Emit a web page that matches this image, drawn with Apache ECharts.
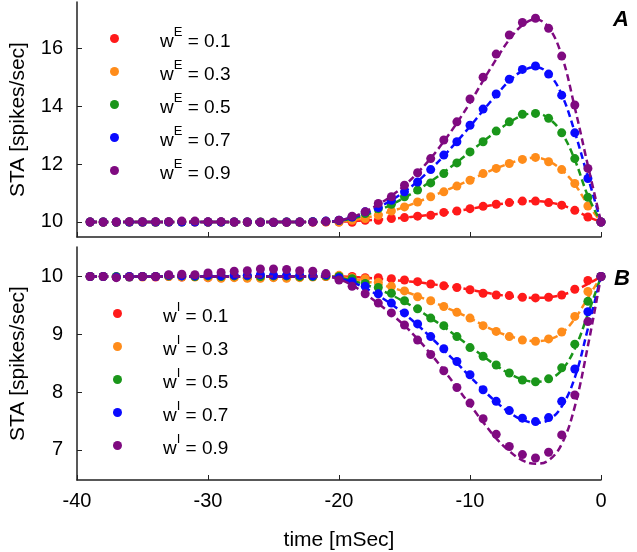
<!DOCTYPE html>
<html lang="en">
<head>
    <meta charset="UTF-8">
    <title>STA</title>
    <style>
        * {
            margin: 0;
            padding: 0;
        }

        .main {
            width: 637px;
            height: 552px;
        }
    </style>
</head>
<body>
<div id="main" class="main"></div>
<script src="https://cdn.jsdelivr.net/npm/echarts@6/dist/echarts.min.js"></script>
<script>
    var times = [-39, -38, -37, -36, -35, -34, -33, -32, -31, -30, -29, -28, -27, -26, -25, -24, -23, -22, -21,
        -20, -19, -18, -17, -16, -15, -14, -13, -12, -11, -10, -9, -8, -7, -6, -5, -4, -3, -2, -1, 0];

    var colors = ['#ff1a1a', '#ff8c1a', '#1a961a', '#0a0aff', '#7f0a80'];
    var weights = ['0.1', '0.3', '0.5', '0.7', '0.9'];
    var xTicks = [-40, -30, -20, -10, 0];
    var excTicks = [10, 12, 14, 16];
    var inhTicks = [7, 8, 9, 10];

    // panel A - excitatory, simulated points
    var excDotRed = [10.00, 9.99, 10.00, 10.00, 9.99, 10.00, 10.00, 10.01, 10.00, 9.99, 10.00, 10.00, 9.99, 9.99, 9.98, 9.99, 9.99, 10.00, 10.00,
        10.00, 9.99, 10.06, 10.06, 10.12, 10.15, 10.20, 10.23, 10.33, 10.38, 10.46, 10.54, 10.61, 10.67, 10.72, 10.72, 10.67, 10.58, 10.40, 10.17, 10.00];
    var excDotOrange = [10.00, 10.00, 9.99, 10.00, 10.00, 9.99, 10.00, 10.00, 10.00, 10.00, 10.00, 9.99, 10.00, 9.99, 9.99, 10.00, 10.00, 10.00, 10.01,
        10.00, 10.06, 10.12, 10.23, 10.38, 10.52, 10.69, 10.87, 11.04, 11.24, 11.44, 11.67, 11.85, 12.02, 12.16, 12.23, 12.08, 11.81, 11.33, 10.55, 10.00];
    var excDotGreen = [10.00, 10.00, 9.99, 10.00, 10.00, 10.00, 10.00, 10.00, 10.01, 10.00, 10.00, 10.00, 10.00, 10.00, 9.99, 10.00, 10.00, 10.01, 10.02,
        10.05, 10.17, 10.29, 10.46, 10.61, 10.87, 11.10, 11.35, 11.67, 12.04, 12.42, 12.77, 13.14, 13.46, 13.72, 13.75, 13.58, 13.08, 12.19, 10.85, 10.00];
    var excDotBlue = [10.00, 10.00, 10.00, 10.00, 10.00, 10.00, 10.00, 10.00, 10.00, 10.00, 10.00, 10.00, 10.00, 9.99, 9.99, 10.00, 10.00, 10.01, 10.03,
        10.06, 10.17, 10.35, 10.50, 10.75, 11.04, 11.38, 11.81, 12.31, 12.77, 13.34, 13.90, 14.42, 14.93, 15.27, 15.39, 15.11, 14.38, 13.08, 11.50, 10.00];
    var excDotPurple = [10.00, 10.00, 10.00, 10.01, 10.01, 10.01, 10.01, 10.03, 10.03, 10.01, 10.01, 10.00, 10.00, 9.99, 9.99, 9.99, 10.00, 10.00, 10.02,
        10.06, 10.20, 10.35, 10.64, 10.87, 11.27, 11.70, 12.19, 12.83, 13.46, 14.25, 15.00, 15.80, 16.46, 16.89, 17.04, 16.69, 15.73, 14.04, 11.85, 10.00];

    // panel A - theory (dashed)
    var excFitRed = [10, 10, 10, 10, 10, 10, 10, 10, 10, 10, 10, 10, 10, 10, 10, 10, 10, 10, 10,
        10.01, 10.03, 10.05, 10.08, 10.11, 10.15, 10.20, 10.25, 10.31, 10.38, 10.45, 10.53, 10.60, 10.66, 10.71, 10.72, 10.68, 10.58, 10.40, 10.18, 10.00];
    var excFitOrange = [10, 10, 10, 10, 10, 10, 10, 10, 10, 10, 10, 10, 10, 10, 10, 10, 10, 10, 10,
        10.02, 10.07, 10.14, 10.24, 10.37, 10.52, 10.69, 10.87, 11.06, 11.25, 11.45, 11.66, 11.85, 12.02, 12.16, 12.22, 12.10, 11.80, 11.30, 10.60, 10.00];
    var excFitGreen = [10, 10, 10, 10, 10, 10, 10, 10, 10, 10, 10, 10, 10, 10, 10, 10, 10, 10, 10,
        10.04, 10.12, 10.24, 10.40, 10.60, 10.84, 11.10, 11.40, 11.72, 12.06, 12.42, 12.78, 13.12, 13.44, 13.68, 13.75, 13.58, 13.08, 12.15, 10.90, 10.00];
    var excFitBlue = [10, 10, 10, 10, 10, 10, 10, 10, 10, 10, 10, 10, 10, 10, 10, 10, 10, 10, 10,
        10.05, 10.15, 10.30, 10.50, 10.75, 11.05, 11.40, 11.82, 12.28, 12.78, 13.30, 13.85, 14.38, 14.87, 15.22, 15.35, 15.12, 14.40, 13.10, 11.55, 10.00];
    var excFitPurple = [10, 10, 10, 10, 10, 10, 10, 10, 10, 10, 10, 10, 10, 10, 10, 10, 10, 10, 10,
        10.05, 10.17, 10.36, 10.60, 10.90, 11.26, 11.70, 12.20, 12.78, 13.42, 14.12, 14.88, 15.62, 16.30, 16.80, 17.00, 16.72, 15.75, 13.95, 11.95, 10.00];

    // panel B - inhibitory, simulated points
    var inhDotRed = [10.00, 10.00, 9.99, 10.00, 10.00, 9.99, 10.00, 9.99, 10.00, 9.98, 9.98, 9.99, 9.98, 9.98, 9.99, 9.98, 9.99, 10.00, 10.00,
        10.00, 10.00, 9.98, 9.98, 9.96, 9.94, 9.91, 9.87, 9.84, 9.81, 9.77, 9.71, 9.68, 9.67, 9.64, 9.63, 9.64, 9.68, 9.78, 9.93, 10.00];
    var inhDotOrange = [10.00, 10.00, 9.99, 10.00, 9.99, 10.00, 10.00, 9.99, 9.99, 9.98, 9.97, 9.98, 9.97, 9.97, 9.98, 9.97, 9.98, 9.99, 10.00,
        10.02, 9.98, 9.96, 9.90, 9.83, 9.75, 9.65, 9.58, 9.48, 9.38, 9.28, 9.15, 9.05, 8.96, 8.90, 8.88, 8.92, 9.04, 9.31, 9.74, 10.00];
    var inhDotGreen = [10.00, 10.00, 10.00, 9.99, 10.00, 10.00, 10.01, 10.01, 10.00, 10.01, 10.00, 10.01, 10.01, 10.00, 10.01, 10.01, 10.00, 10.00, 10.01,
        10.00, 9.96, 9.88, 9.81, 9.71, 9.58, 9.44, 9.28, 9.15, 8.96, 8.77, 8.62, 8.47, 8.33, 8.21, 8.18, 8.23, 8.42, 8.83, 9.57, 10.00];
    var inhDotBlue = [10.00, 10.00, 9.99, 10.00, 10.00, 10.00, 10.02, 10.01, 10.01, 10.02, 10.01, 10.02, 10.02, 10.03, 10.02, 10.02, 10.02, 10.01, 10.03,
        9.98, 9.91, 9.83, 9.70, 9.54, 9.37, 9.18, 8.96, 8.75, 8.53, 8.30, 8.04, 7.84, 7.68, 7.55, 7.49, 7.56, 7.84, 8.40, 9.39, 10.00];
    var inhDotPurple = [10.00, 10.00, 9.98, 9.99, 10.00, 10.00, 10.03, 10.04, 10.03, 10.06, 10.07, 10.09, 10.10, 10.13, 10.13, 10.12, 10.10, 10.09, 10.05,
        9.94, 9.83, 9.70, 9.54, 9.37, 9.16, 8.90, 8.65, 8.37, 8.08, 7.81, 7.54, 7.27, 7.06, 6.92, 6.86, 6.96, 7.26, 7.95, 9.22, 10.00];

    // panel B - theory (dashed)
    var inhFitRed = [10, 10, 10, 10, 10, 10, 10, 10, 10, 10, 10, 10, 10, 10, 10, 10, 10, 10, 10,
        10.00, 9.99, 9.98, 9.96, 9.94, 9.92, 9.90, 9.87, 9.84, 9.81, 9.77, 9.73, 9.69, 9.66, 9.64, 9.63, 9.64, 9.68, 9.76, 9.87, 10.00];
    var inhFitOrange = [10, 10, 10, 10, 10, 10, 10, 10, 10, 10, 10, 10, 10, 10, 10, 10, 10, 10, 10,
        9.99, 9.96, 9.92, 9.87, 9.81, 9.74, 9.66, 9.57, 9.48, 9.38, 9.28, 9.16, 9.05, 8.97, 8.91, 8.88, 8.91, 9.02, 9.27, 9.63, 10.00];
    var inhFitGreen = [10, 10, 10, 10, 10, 10, 10, 10, 10, 10, 10, 10, 10, 10, 10, 10, 10, 10, 10,
        9.98, 9.93, 9.86, 9.78, 9.68, 9.56, 9.43, 9.28, 9.13, 8.96, 8.79, 8.62, 8.46, 8.32, 8.22, 8.18, 8.22, 8.38, 8.75, 9.35, 10.00];
    var inhFitBlue = [10, 10, 10, 10, 10, 10, 10, 10, 10, 10, 10, 10, 10, 10, 10, 10, 10, 10, 10,
        9.97, 9.90, 9.80, 9.67, 9.52, 9.35, 9.16, 8.95, 8.73, 8.50, 8.27, 8.04, 7.83, 7.65, 7.52, 7.47, 7.52, 7.75, 8.25, 9.10, 10.00];
    var inhFitPurple = [10, 10, 10, 10, 10, 10, 10, 10, 10, 10, 10, 10, 10, 10, 10, 10, 10, 10, 10,
        9.95, 9.85, 9.70, 9.53, 9.35, 9.15, 8.92, 8.66, 8.38, 8.08, 7.78, 7.48, 7.20, 6.98, 6.82, 6.76, 6.82, 7.10, 7.75, 8.80, 10.00];

    var excDots = [excDotRed, excDotOrange, excDotGreen, excDotBlue, excDotPurple];
    var excFits = [excFitRed, excFitOrange, excFitGreen, excFitBlue, excFitPurple];
    var inhDots = [inhDotRed, inhDotOrange, inhDotGreen, inhDotBlue, inhDotPurple];
    var inhFits = [inhFitRed, inhFitOrange, inhFitGreen, inhFitBlue, inhFitPurple];

    var font = 'Liberation Sans, Arial, sans-serif';

    function pairs(vals) {
        return times.map(function (t, i) {
            return [t, vals[i]];
        });
    }

    var series = [];
    var excNames = [];
    var inhNames = [];

    function addPanel(idx, fits, dots, sup, names) {
        for (var i = 0; i < 5; i++) {
            var name = 'w' + sup + ' = ' + weights[i];
            names.push(name);
            series.push({
                type: 'line',
                xAxisIndex: idx,
                yAxisIndex: idx,
                data: pairs(fits[i]),
                smooth: 0.4,
                symbol: 'none',
                silent: true,
                lineStyle: {color: colors[i], width: 2.5, type: [7, 4]},
                z: 2 + i * 2
            });
            series.push({
                type: 'scatter',
                name: name,
                xAxisIndex: idx,
                yAxisIndex: idx,
                data: pairs(dots[i]),
                symbolSize: 9,
                itemStyle: {color: colors[i], opacity: 1},
                z: 3 + i * 2
            });
        }
    }

    addPanel(0, excFits, excDots, 'E', excNames);
    addPanel(1, inhFits, inhDots, 'I', inhNames);

    function legendFmt(n) {
        var p = n.split(' = ');
        return '{a|w}{b|' + p[0].slice(1) + '}{a| = ' + p[1] + '}';
    }

    var legendText = {
        fontFamily: font,
        color: '#000',
        padding: [0, 0, 0, 36],
        rich: {
            a: {fontSize: 19, fontFamily: font, lineHeight: 25, verticalAlign: 'bottom', color: '#000'},
            b: {fontSize: 13, fontFamily: font, lineHeight: 13, verticalAlign: 'top', color: '#000'}
        }
    };

    function xAxis(idx, showLabel) {
        return {
            type: 'value',
            gridIndex: idx,
            min: -40,
            max: 0,
            interval: 10,
            name: showLabel ? 'time [mSec]' : '',
            nameLocation: 'middle',
            nameGap: 50,
            nameTextStyle: {fontFamily: font, fontSize: 21, color: '#000'},
            axisLine: {onZero: false, lineStyle: {color: '#222', width: 1.5}},
            axisTick: {inside: true, length: 5, lineStyle: {color: '#222', width: 1}},
            axisLabel: {show: showLabel, margin: 11, fontFamily: font, fontSize: 20, color: '#000'},
            splitLine: {show: false}
        };
    }

    function yAxis(idx, min, max, ticks) {
        return {
            type: 'value',
            gridIndex: idx,
            min: min,
            max: max,
            name: 'STA [spikes/sec]',
            nameLocation: 'middle',
            nameGap: 48,
            nameTextStyle: {fontFamily: font, fontSize: 21, color: '#000'},
            axisLine: {show: true, onZero: false, lineStyle: {color: '#222', width: 1.5}},
            axisTick: {show: true, inside: true, length: 5, customValues: ticks, lineStyle: {color: '#222', width: 1}},
            axisLabel: {margin: 14, customValues: ticks, fontFamily: font, fontSize: 20, color: '#000'},
            splitLine: {show: false}
        };
    }

    var myChart = echarts.init(document.getElementById('main'), null, {renderer: 'canvas'});

    myChart.setOption({
        backgroundColor: '#fff',
        animation: false,
        grid: [
            {left: 76, right: 36, top: 2, height: 235},
            {left: 76, right: 36, top: 247, height: 233}
        ],
        xAxis: [xAxis(0, false), xAxis(1, true)],
        yAxis: [yAxis(0, 9.48, 17.6, excTicks), yAxis(1, 6.48, 10.51, inhTicks)],
        legend: [
            {
                data: excNames, orient: 'vertical', left: 105, top: 21, itemGap: 8,
                itemWidth: 9, itemHeight: 9, icon: 'circle', formatter: legendFmt,
                textStyle: legendText, selectedMode: false
            },
            {
                data: inhNames, orient: 'vertical', left: 108, top: 296, itemGap: 8,
                itemWidth: 9, itemHeight: 9, icon: 'circle', formatter: legendFmt,
                textStyle: legendText, selectedMode: false
            }
        ],
        graphic: [
            {type: 'text', left: 613, top: 9, style: {text: 'A', font: 'italic bold 22px ' + font, fill: '#000'}},
            {type: 'text', left: 614, top: 268, style: {text: 'B', font: 'italic bold 22px ' + font, fill: '#000'}}
        ],
        series: series
    });
</script>
</body>
</html>
